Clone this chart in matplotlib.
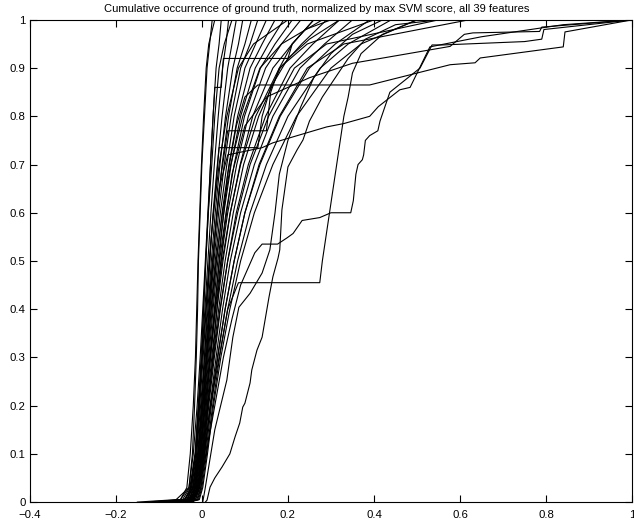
import matplotlib
matplotlib.use("Agg")
import matplotlib.pyplot as plt

plt.rcParams['font.family'] = ['Liberation Sans', 'DejaVu Sans']

title = "Cumulative occurrence of ground truth, normalized by max SVM score, all 39 features"
xticks = [-0.4, -0.2, 0, 0.2, 0.4, 0.6, 0.8, 1]
xticklabels = ["\u22120.4", "\u22120.2", "0", "0.2", "0.4", "0.6", "0.8", "1"]
yticks = [0, 0.1, 0.2, 0.3, 0.4, 0.5, 0.6, 0.7, 0.8, 0.9, 1]
yticklabels = ["0", "0.1", "0.2", "0.3", "0.4", "0.5", "0.6", "0.7", "0.8", "0.9", "1"]

# common y levels for bundle curves
Y = [0, 0.005, 0.03, 0.1, 0.2, 0.3, 0.4, 0.5, 0.6, 0.7, 0.8, 0.9, 0.95, 1.0]

# bundle curves: x positions at the levels in Y
b01 = [-0.15, -0.06, -0.03, -0.022, -0.017, -0.013, -0.010, -0.008, -0.004, 0.000, 0.006, 0.012, 0.018, 0.024]
b02 = [-0.13, -0.05, -0.035, -0.027, -0.02, -0.015, -0.012, -0.009, -0.005, -0.001, 0.004, 0.010, 0.016, 0.030]
b03 = [-0.11, -0.05, -0.03, -0.02, -0.011, -0.004, 0.002, 0.008, 0.014, 0.020, 0.026, 0.033, 0.040, 0.045]
b04 = [-0.10, -0.045, -0.028, -0.016, -0.008, 0.000, 0.007, 0.014, 0.021, 0.029, 0.038, 0.048, 0.056, 0.062]
b05 = [-0.09, -0.04, -0.026, -0.014, -0.005, 0.003, 0.010, 0.018, 0.026, 0.036, 0.047, 0.060, 0.070, 0.080]
b06 = [-0.08, -0.04, -0.024, -0.012, -0.003, 0.006, 0.014, 0.022, 0.031, 0.042, 0.055, 0.072, 0.085, 0.095]
b07 = [-0.075, -0.035, -0.022, -0.010, -0.001, 0.008, 0.016, 0.025, 0.035, 0.047, 0.062, 0.082, 0.100, 0.115]
b08 = [-0.07, -0.035, -0.02, -0.008, 0.001, 0.010, 0.019, 0.028, 0.039, 0.052, 0.068, 0.090, 0.112, 0.130]
b09 = [-0.065, -0.03, -0.018, -0.006, 0.003, 0.012, 0.021, 0.031, 0.043, 0.058, 0.075, 0.100, 0.125, 0.150]
b10 = [-0.06, -0.03, -0.016, -0.005, 0.005, 0.014, 0.024, 0.034, 0.047, 0.063, 0.083, 0.112, 0.140, 0.170]
b11 = [-0.06, -0.028, -0.014, -0.003, 0.006, 0.016, 0.026, 0.037, 0.051, 0.068, 0.090, 0.124, 0.155, 0.190]
b12 = [-0.055, -0.025, -0.012, -0.002, 0.008, 0.018, 0.029, 0.041, 0.056, 0.075, 0.099, 0.136, 0.170, 0.210]
b13 = [-0.05, -0.022, -0.010, 0.000, 0.010, 0.020, 0.031, 0.044, 0.060, 0.081, 0.108, 0.148, 0.185, 0.230]
b14 = [-0.05, -0.02, -0.008, 0.002, 0.012, 0.023, 0.035, 0.049, 0.066, 0.089, 0.118, 0.165, 0.210, 0.260]
b15 = [-0.045, -0.018, -0.006, 0.004, 0.014, 0.026, 0.039, 0.054, 0.073, 0.097, 0.132, 0.182, 0.232, 0.290]
b16 = [-0.04, -0.015, -0.005, 0.005, 0.016, 0.029, 0.043, 0.060, 0.080, 0.108, 0.148, 0.205, 0.258, 0.320]
b17 = [-0.04, -0.012, -0.003, 0.007, 0.019, 0.033, 0.048, 0.066, 0.090, 0.122, 0.165, 0.228, 0.285, 0.350]
b18 = [-0.035, -0.01, -0.002, 0.009, 0.022, 0.037, 0.054, 0.075, 0.100, 0.135, 0.182, 0.250, 0.310, 0.390]
b19 = [-0.03, -0.008, 0.000, 0.011, 0.025, 0.041, 0.060, 0.083, 0.112, 0.150, 0.200, 0.275, 0.340, 0.440]
b20 = [-0.03, -0.006, 0.002, 0.013, 0.027, 0.044, 0.065, 0.090, 0.122, 0.165, 0.220, 0.300, 0.370, 0.500]
b21 = [-0.1, -0.04, -0.02, -0.012, -0.006, 0.000, 0.004, 0.009, 0.015, 0.023, 0.030, 0.040, 0.052, 0.070]
b22 = [-0.085, -0.04, -0.024, -0.015, -0.007, 0.001, 0.009, 0.017, 0.027, 0.040, 0.058, 0.085, 0.120, 0.200]
b23 = [-0.07, -0.03, -0.02, -0.009, 0.002, 0.012, 0.022, 0.033, 0.048, 0.067, 0.095, 0.135, 0.185, 0.280]
b24 = [-0.06, -0.025, -0.015, -0.004, 0.007, 0.019, 0.032, 0.047, 0.066, 0.090, 0.125, 0.180, 0.245, 0.400]
b25 = [-0.05, -0.02, -0.01, 0.001, 0.013, 0.027, 0.042, 0.060, 0.083, 0.112, 0.155, 0.215, 0.290, 0.550]
b26 = [-0.04, -0.015, -0.006, 0.006, 0.020, 0.036, 0.054, 0.075, 0.100, 0.133, 0.180, 0.245, 0.330, 0.620]
bundle = [b01, b02, b03, b04, b05, b06, b07, b08, b09, b10, b11, b12, b13,
          b14, b15, b16, b17, b18, b19, b20, b21, b22, b23, b24, b25, b26]

# step-like curves with visible horizontal runs
s1_x = [-0.06, -0.03, -0.015, -0.005, 0.004, 0.012, 0.020, 0.026, 0.030, 0.045, 0.050, 0.200, 0.210, 0.240, 0.300]
s1_y = [0.0, 0.01, 0.1, 0.25, 0.4, 0.55, 0.7, 0.8, 0.86, 0.86, 0.92, 0.92, 0.95, 0.98, 1.0]
s2_x = [-0.05, -0.02, -0.008, 0.003, 0.012, 0.022, 0.032, 0.040, 0.130, 0.140, 0.160, 0.200, 0.250, 0.320]
s2_y = [0.0, 0.01, 0.1, 0.25, 0.4, 0.55, 0.65, 0.735, 0.735, 0.80, 0.86, 0.92, 0.96, 1.0]
s3_x = [-0.045, -0.02, -0.006, 0.006, 0.018, 0.030, 0.045, 0.060, 0.150, 0.160, 0.180, 0.210, 0.260]
s3_y = [0.0, 0.01, 0.1, 0.25, 0.4, 0.55, 0.68, 0.77, 0.77, 0.85, 0.90, 0.95, 1.0]

# distinctive outliers
c1_x = [-0.03, -0.01, 0.005, 0.02, 0.04, 0.06, 0.085, 0.274, 0.280, 0.290, 0.300, 0.310, 0.320, 0.330, 0.340, 0.350, 0.370, 0.420, 0.500]
c1_y = [0.0, 0.02, 0.1, 0.2, 0.3, 0.4, 0.455, 0.455, 0.50, 0.56, 0.62, 0.68, 0.74, 0.80, 0.84, 0.89, 0.93, 0.97, 1.0]
c2_x = [0.008, 0.012, 0.019, 0.030, 0.047, 0.065, 0.077, 0.088, 0.095, 0.100, 0.112, 0.116, 0.128, 0.140, 0.156, 0.165, 0.177, 0.181, 0.186, 0.200, 0.221, 0.235, 0.250, 0.280, 0.310, 0.340, 0.380, 0.450, 0.550]
c2_y = [0.0, 0.004, 0.031, 0.050, 0.073, 0.100, 0.135, 0.164, 0.197, 0.205, 0.247, 0.274, 0.315, 0.342, 0.425, 0.467, 0.506, 0.523, 0.606, 0.695, 0.730, 0.751, 0.790, 0.840, 0.880, 0.920, 0.960, 0.990, 1.0]
c3_x = [-0.03, -0.01, 0.01, 0.03, 0.05, 0.07, 0.09, 0.123, 0.140, 0.176, 0.198, 0.212, 0.233, 0.274, 0.300, 0.322, 0.346, 0.352, 0.358, 0.363, 0.373, 0.376, 0.380, 0.390, 0.409, 0.414, 0.437, 0.507, 0.535, 0.560, 0.750, 0.790, 0.795, 1.0]
c3_y = [0.0, 0.02, 0.1, 0.2, 0.3, 0.38, 0.45, 0.517, 0.535, 0.535, 0.548, 0.557, 0.584, 0.59, 0.60, 0.60, 0.60, 0.625, 0.68, 0.70, 0.71, 0.72, 0.75, 0.76, 0.77, 0.79, 0.85, 0.90, 0.948, 0.948, 0.955, 0.96, 0.98, 1.0]
c6_x = [-0.04, -0.015, 0.0, 0.015, 0.03, 0.045, 0.06, 0.08, 0.10, 0.13, 0.390, 0.577, 0.635, 0.647, 0.840, 0.844, 1.0]
c6_y = [0.0, 0.02, 0.1, 0.25, 0.4, 0.55, 0.68, 0.78, 0.84, 0.865, 0.865, 0.907, 0.911, 0.921, 0.944, 0.975, 1.0]
c7_x = [-0.035, -0.012, 0.003, 0.02, 0.035, 0.05, 0.07, 0.10, 0.15, 0.25, 0.35, 0.577, 0.610, 0.630, 0.785, 0.790, 1.0]
c7_y = [0.0, 0.02, 0.1, 0.25, 0.4, 0.55, 0.68, 0.78, 0.84, 0.88, 0.91, 0.945, 0.970, 0.973, 0.976, 0.985, 1.0]
c9_x = [-0.02, -0.005, 0.005, 0.02, 0.04, 0.06, 0.140, 0.165, 0.290, 0.330, 0.390, 0.410, 0.460, 0.484, 0.530, 0.650, 0.840, 1.0]
c9_y = [0.0, 0.05, 0.2, 0.45, 0.65, 0.72, 0.735, 0.745, 0.778, 0.785, 0.80, 0.82, 0.855, 0.86, 0.944, 0.965, 0.99, 1.0]
c10_x = [0.002, 0.007, 0.030, 0.058, 0.072, 0.086, 0.112, 0.140, 0.158, 0.170, 0.180, 0.200, 0.230, 0.260, 0.300, 0.350, 0.420]
c10_y = [0.0, 0.025, 0.15, 0.253, 0.342, 0.404, 0.433, 0.475, 0.523, 0.60, 0.68, 0.75, 0.82, 0.88, 0.93, 0.97, 1.0]

outliers = [(s1_x, s1_y), (s2_x, s2_y), (s3_x, s3_y), (c1_x, c1_y), (c2_x, c2_y),
            (c3_x, c3_y), (c6_x, c6_y), (c7_x, c7_y), (c9_x, c9_y), (c10_x, c10_y)]

fig = plt.figure(figsize=(6.34, 5.23), dpi=100)
ax = fig.add_axes([0.047, 0.040, 0.950, 0.922])

for xs in bundle:
    ax.plot(xs, Y, color='black', lw=0.8)
for xs, ys in outliers:
    ax.plot(xs, ys, color='black', lw=0.8)

ax.set_xlim(-0.4, 1.0)
ax.set_ylim(0, 1)
ax.set_xticks(xticks)
ax.set_xticklabels(xticklabels)
ax.set_yticks(yticks)
ax.set_yticklabels(yticklabels)
ax.tick_params(direction='in', length=5, width=0.8, top=True, right=True,
               labelsize=8.2)
ax.tick_params(axis='x', pad=5.5)
ax.tick_params(axis='y', pad=3)
for sp in ax.spines.values():
    sp.set_linewidth(0.8)
fig.text(0.5, 0.982, title, fontsize=8, ha='center', va='center')

fig.savefig("out.png", dpi=100)
